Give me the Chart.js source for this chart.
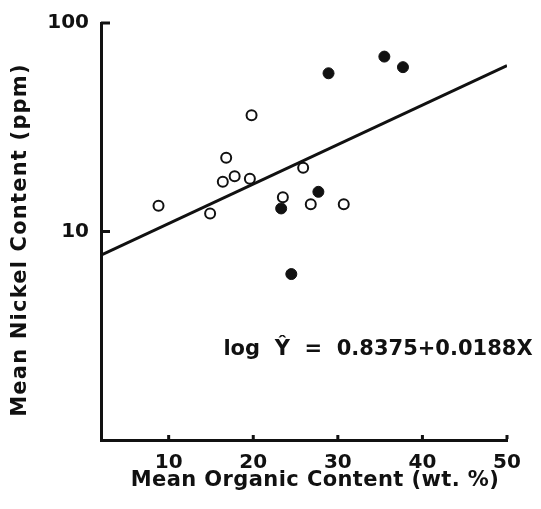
<!DOCTYPE html>
<html>
<head>
<meta charset="utf-8">
<script src="https://cdn.jsdelivr.net/npm/chart.js@4"></script>
<style>
  html, body { margin: 0; padding: 0; background: #fff; }
  #wrap { width: 541px; height: 509px; }
</style>
</head>
<body>
<div id="wrap"><canvas id="nickel"></canvas></div>
<script>
// values
var openX = [8.8, 14.9, 16.4, 16.8, 17.8, 19.6, 19.8, 23.5, 25.9, 26.8, 30.7];
var openY = [13.3, 12.2, 17.3, 22.6, 18.4, 17.9, 36.1, 14.6, 20.2, 13.5, 13.5];
var solidX = [23.3, 27.7, 24.5, 28.9, 35.5, 37.7];
var solidY = [12.9, 15.5, 6.25, 57.4, 69, 61.4];
// regression line end points
var lineX = [2, 50];
var lineY = [7.7, 62.5];
var xTicks = [10, 20, 30, 40, 50];
var yTicks = [10, 100];

function pts(xs, ys) {
    return xs.map(function (x, i) { return { x: x, y: ys[i] }; });
}

var FONT = "'DejaVu Sans', sans-serif";

var extras = {
    id: "extras",
    afterDraw: function (chart) {
        var c = chart.ctx;
        var xs = chart.scales.x, ys = chart.scales.y;
        var area = chart.chartArea;
        c.save();
        c.fillStyle = "#111";
        c.strokeStyle = "#111";
        // y ticks, pointing inward
        c.lineWidth = 3;
        yTicks.forEach(function (v) {
            var py = ys.getPixelForValue(v);
            c.beginPath();
            c.moveTo(area.left, py);
            c.lineTo(area.left + 9, py);
            c.stroke();
        });
        // x ticks are little dots above the axis
        xTicks.forEach(function (v) {
            var px = xs.getPixelForValue(v);
            c.fillRect(px - 1.5, area.bottom - 5, 3, 4);
        });
        // titles
        c.textAlign = "center";
        c.textBaseline = "middle";
        c.font = "bold 21px " + FONT;
        c.letterSpacing = "0.4px";
        c.fillText("Mean Organic Content (wt. %)", 315, 481);
        c.save();
        c.translate(21, 240);
        c.rotate(-Math.PI / 2);
        c.letterSpacing = "1.2px";
        c.fillText("Mean Nickel Content (ppm)", 0, 0);
        c.restore();
        // equation
        c.letterSpacing = "0px";
        c.font = "bold 21px " + FONT;
        c.fillText("log  Ŷ  =  0.8375+0.0188X", 378, 350);
        c.restore();
    }
};

var ctx = document.getElementById("nickel");
var chart = new Chart(ctx, {
    type: "scatter",
    data: {
        datasets: [{
                label: "fit",
                type: "line",
                data: pts(lineX, lineY),
                borderColor: "#111",
                borderWidth: 3,
                pointRadius: 0,
                fill: false
            },
            {
                label: "open",
                data: pts(openX, openY),
                backgroundColor: "#fff",
                borderColor: "#111",
                borderWidth: 2,
                pointRadius: 5
            },
            {
                label: "solid",
                data: pts(solidX, solidY),
                backgroundColor: "#111",
                borderColor: "#111",
                borderWidth: 1,
                pointRadius: 5.5
            }
        ]
    },
    options: {
        responsive: true,
        maintainAspectRatio: false,
        animation: false,
        layout: {
            padding: { top: 23, right: 34, left: 0, bottom: 0 }
        },
        plugins: {
            legend: { display: false },
            tooltip: { enabled: false }
        },
        scales: {
            x: {
                type: "linear",
                min: 2,
                max: 50,
                afterBuildTicks: function (s) {
                    s.ticks = xTicks.map(function (v) { return { value: v }; });
                },
                afterFit: function (s) { s.height = 69; },
                grid: { display: false },
                border: { display: true, color: "#111", width: 3 },
                ticks: {
                    color: "#111",
                    padding: 3,
                    maxRotation: 0,
                    autoSkip: false,
                    font: { family: FONT, size: 20, weight: "bold" }
                }
            },
            y: {
                type: "logarithmic",
                min: 1,
                max: 100,
                afterBuildTicks: function (s) {
                    s.ticks = yTicks.map(function (v) { return { value: v }; });
                },
                afterFit: function (s) { s.width = 101; },
                grid: { display: false },
                border: { display: true, color: "#111", width: 3 },
                ticks: {
                    color: "#111",
                    padding: 4,
                    callback: function (v) { return String(v); },
                    font: { family: FONT, size: 20, weight: "bold" }
                }
            }
        }
    },
    plugins: [extras]
});
</script>
</body>
</html>
